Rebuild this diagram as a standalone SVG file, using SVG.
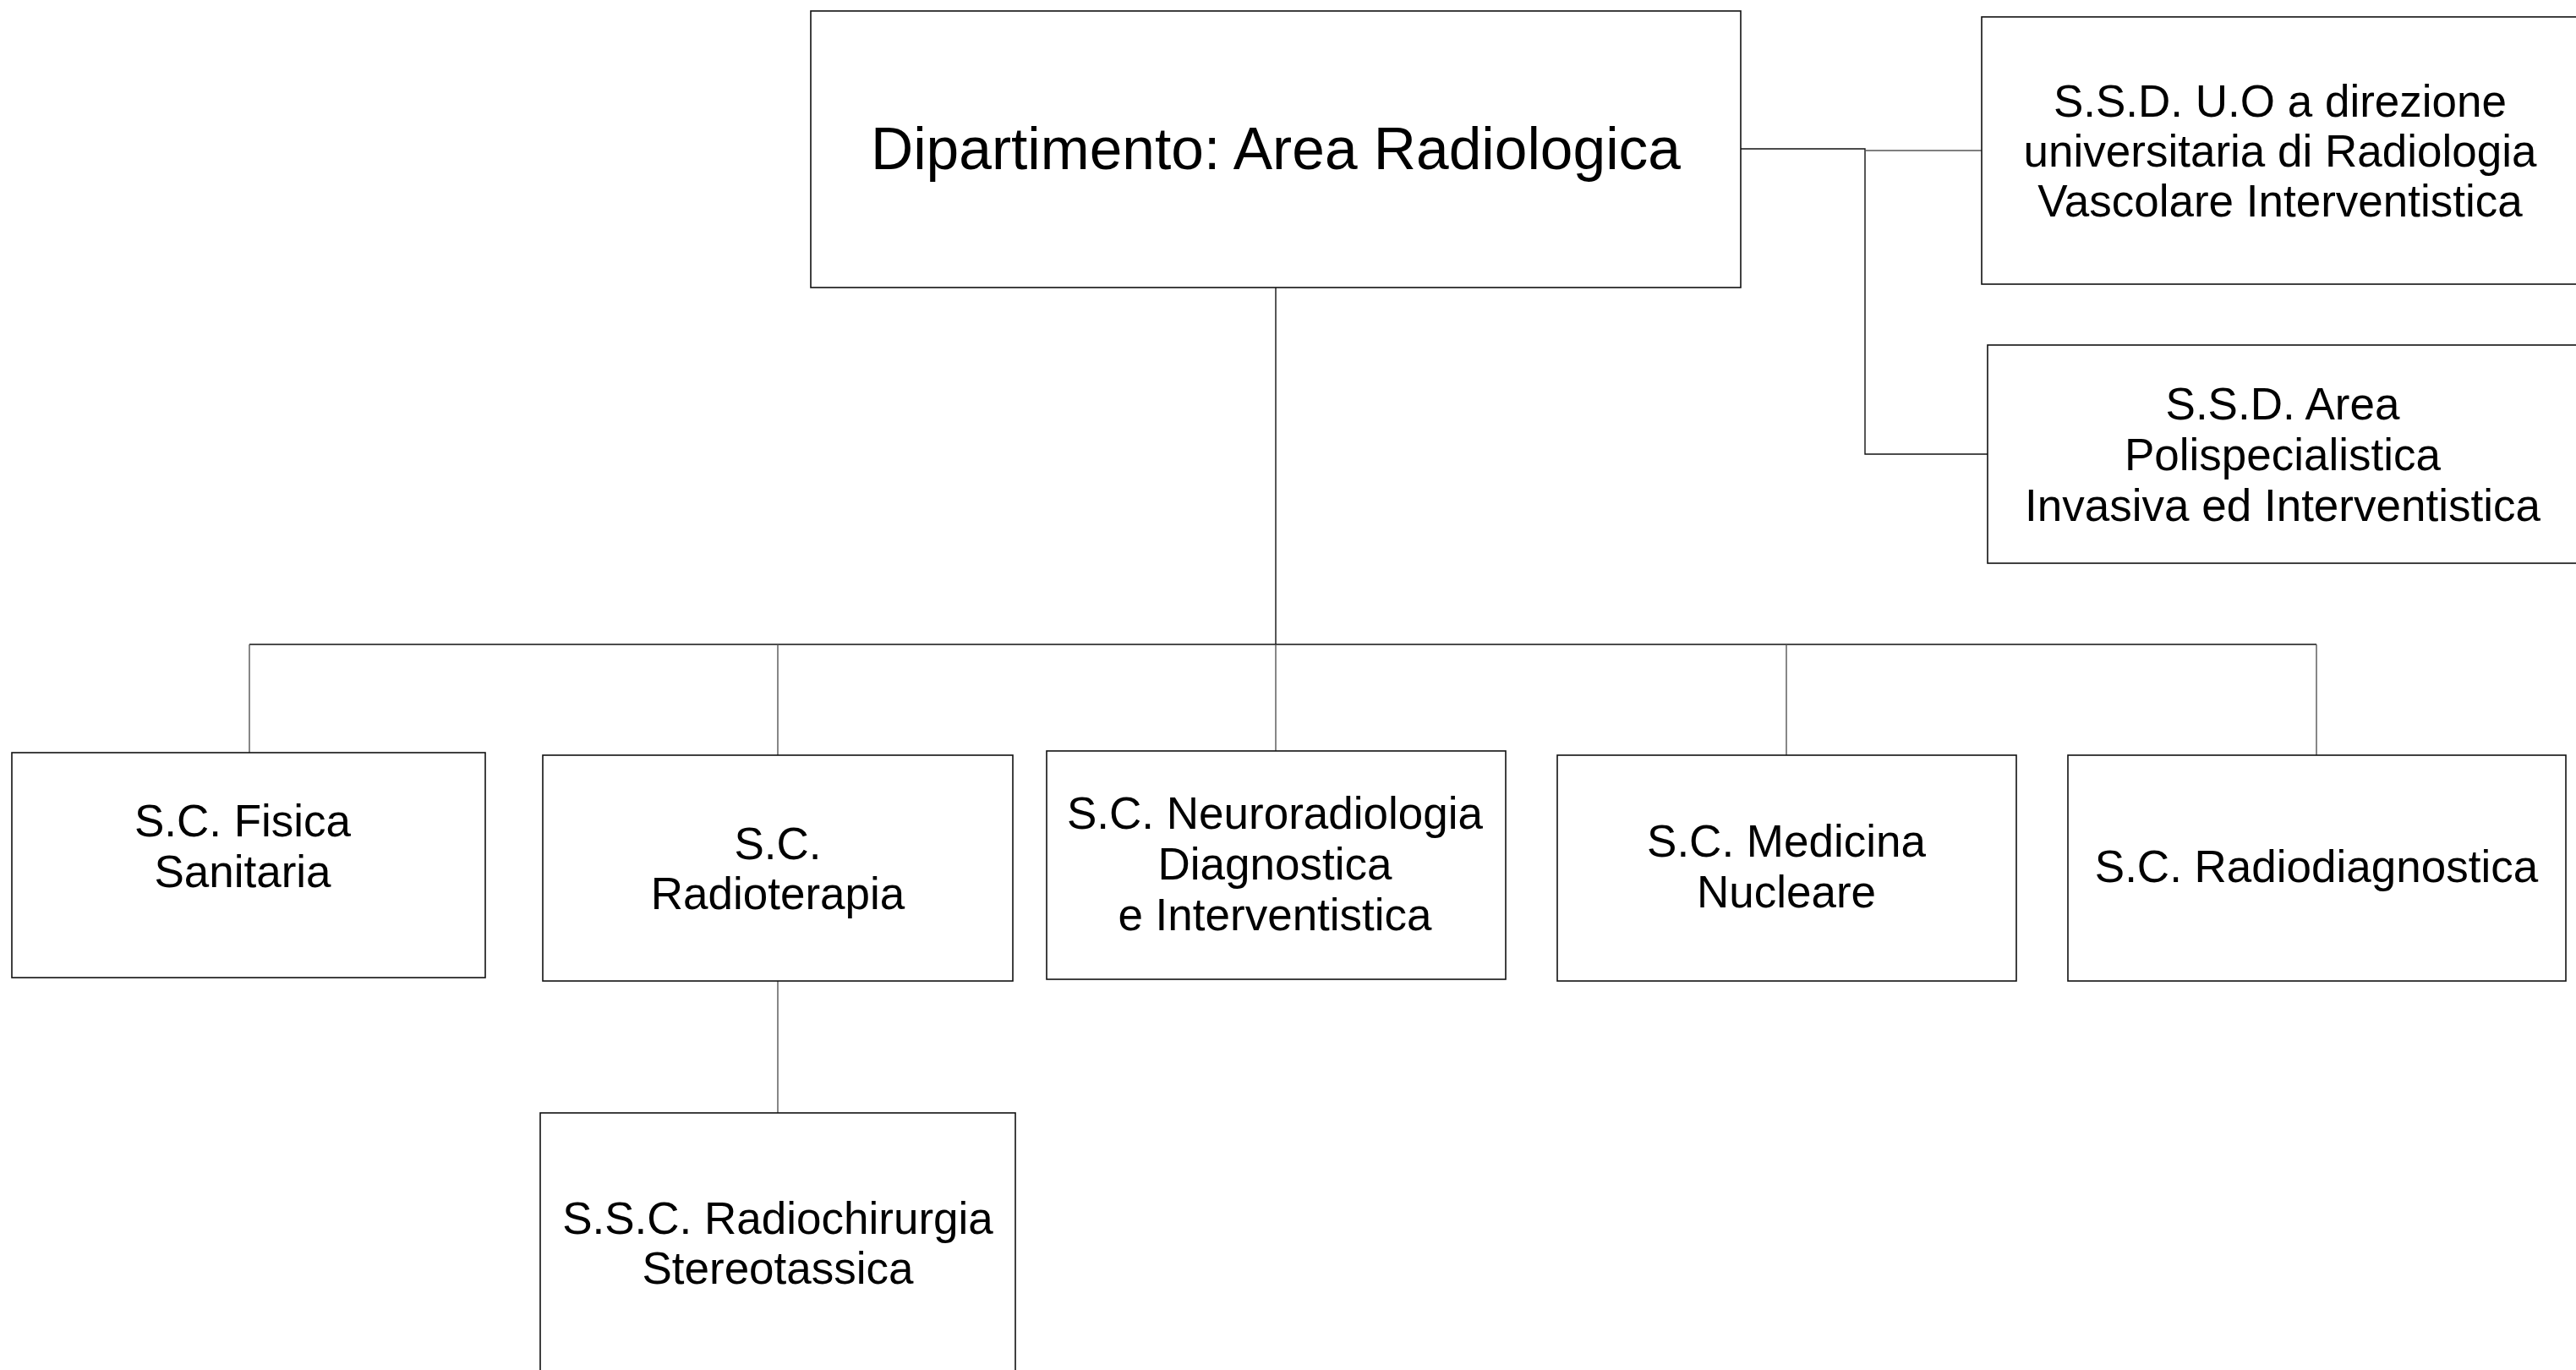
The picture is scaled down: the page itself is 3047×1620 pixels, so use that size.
<svg xmlns="http://www.w3.org/2000/svg" width="3047" height="1620" viewBox="0 0 3047 1620">
<style>
.box{fill:#fff;stroke:#111;stroke-width:1.6}
.t{font-family:"Liberation Sans",Arial,sans-serif;font-size:53px;fill:#000;text-anchor:middle}
.title{font-size:69.5px}
.c{stroke:#111;stroke-width:1.4;fill:none}
.cg{stroke:#555;stroke-width:1.4;fill:none}
</style>
<rect width="3047" height="1620" fill="#fff"/>
<g id="connectors">
<line class="c" x1="1509" y1="340" x2="1509" y2="762"/>
<line class="c" x1="295" y1="762" x2="2740" y2="762"/>
<line class="cg" x1="295" y1="762" x2="295" y2="890"/>
<line class="cg" x1="920" y1="762" x2="920" y2="893"/>
<line class="cg" x1="1509" y1="762" x2="1509" y2="888"/>
<line class="cg" x1="2113" y1="762" x2="2113" y2="893"/>
<line class="cg" x1="2740" y1="762" x2="2740" y2="893"/>
<line class="cg" x1="920" y1="1160" x2="920" y2="1316"/>
<polyline class="c" points="2059,176 2206,176 2206,537 2351,537"/>
<line class="cg" x1="2206" y1="178" x2="2344" y2="178"/>
</g>
<g id="dip">
<rect class="box" x="959" y="13" width="1100" height="327"/>
<text class="t title" x="1509" y="200">Dipartimento: Area Radiologica</text>
</g>
<g id="ssd1">
<rect class="box" x="2344" y="20" width="720" height="316"/>
<text class="t" x="2697" y="138">S.S.D. U.O a direzione</text>
<text class="t" x="2697" y="197">universitaria di Radiologia</text>
<text class="t" x="2697" y="256">Vascolare Interventistica</text>
</g>
<g id="ssd2">
<rect class="box" x="2351" y="408" width="713" height="258"/>
<text class="t" x="2700" y="496">S.S.D. Area</text>
<text class="t" x="2700" y="556">Polispecialistica</text>
<text class="t" x="2700" y="616">Invasiva ed Interventistica</text>
</g>
<g id="fisica">
<rect class="box" x="14" y="890" width="560" height="266"/>
<text class="t" x="287" y="989">S.C. Fisica</text>
<text class="t" x="287" y="1049">Sanitaria</text>
</g>
<g id="radioterapia">
<rect class="box" x="642" y="893" width="556" height="267"/>
<text class="t" x="920" y="1016">S.C.</text>
<text class="t" x="920" y="1075">Radioterapia</text>
</g>
<g id="neuro">
<rect class="box" x="1238" y="888" width="543" height="270"/>
<text class="t" x="1508" y="980">S.C. Neuroradiologia</text>
<text class="t" x="1508" y="1040">Diagnostica</text>
<text class="t" x="1508" y="1100">e Interventistica</text>
</g>
<g id="medicina">
<rect class="box" x="1842" y="893" width="543" height="267"/>
<text class="t" x="2113" y="1013">S.C. Medicina</text>
<text class="t" x="2113" y="1073">Nucleare</text>
</g>
<g id="radiodiag">
<rect class="box" x="2446" y="893" width="589" height="267"/>
<text class="t" x="2740" y="1043">S.C. Radiodiagnostica</text>
</g>
<g id="ssc">
<rect class="box" x="639" y="1316" width="562" height="330"/>
<text class="t" x="920" y="1459">S.S.C. Radiochirurgia</text>
<text class="t" x="920" y="1518">Stereotassica</text>
</g>
</svg>
